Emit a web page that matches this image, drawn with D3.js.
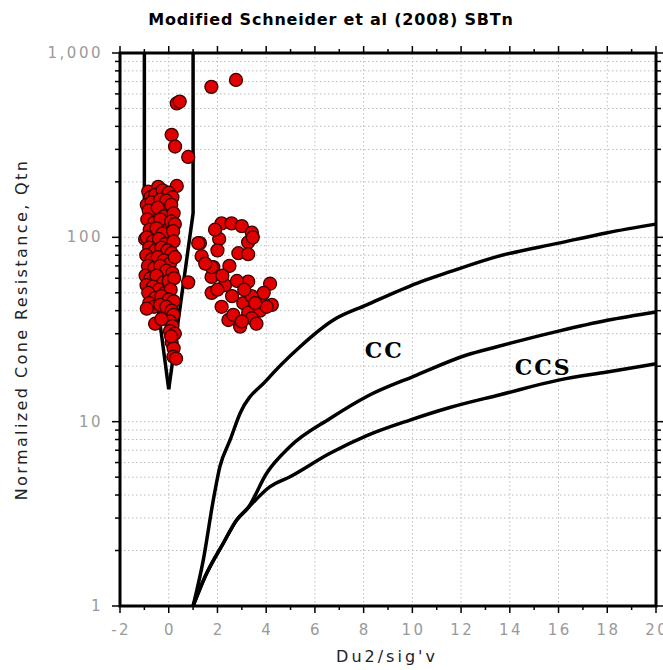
<!DOCTYPE html>
<html>
<head>
<meta charset="utf-8">
<script src="https://cdn.jsdelivr.net/npm/d3@7"></script>
<style>
  body { margin: 0; background: #fff; }
  text { font-family: "DejaVu Sans", Verdana, sans-serif; }
</style>
</head>
<body>
<script>
// tick values
var xTicks = [-2, 0, 2, 4, 6, 8, 10, 12, 14, 16, 18, 20];
var yTickLabels = [1, 10, 100, 1000];

// boundary lines (Du2/sig'v, Qtn)
var leftLine = [[-1, 1000], [-1, 150], [0, 15]];
var rightLine = [[1, 1000], [1, 135], [0, 15]];
var ccTop = [[1, 1], [1.42, 1.78], [1.83, 3.76], [2.1, 5.7], [2.52, 7.96], [2.93, 11.1], [4.02, 16.8],
  [5.39, 25.5], [6.76, 35.6], [8.13, 43], [10.18, 56.3], [11.55, 65.1], [13.47, 78.6], [16, 93], [18, 106], [20, 118]];
var ccMid = [[1, 1], [1.5, 1.45], [2.24, 2.19], [2.79, 2.93], [3.25, 3.4], [4.02, 5.25], [4.98, 7.33],
  [6.62, 10.4], [8.13, 13.7], [10.18, 17.9], [12.23, 23], [13.47, 25.5], [16, 31], [18, 35.5], [20, 39.4]];
var ccsLow = [[1, 1], [1.5, 1.45], [2.24, 2.19], [2.79, 2.93], [3.25, 3.4], [4.16, 4.44], [4.98, 5.03],
  [6.62, 6.74], [8.13, 8.4], [9.9, 10.2], [11.5, 11.9], [13.6, 14], [16, 16.8], [18, 18.6], [20, 20.6]];

// CPT data points
var ptX = [-0.84, -0.43, 0.33, -0.63, -0.08, -0.01, -0.97, 0.05,
  -0.75, -0.55, -0.25, 0.0, 0.15, -0.9, -0.7, -0.35, -0.1, 0.1,
  -0.82, -0.45, -0.2, 0.2, -0.88, -0.6, -0.35, 0.1, 0.25,
  -0.78, -0.5, -0.25, 0.18, -0.9, -0.65, -0.4, -0.15, 0.2,
  -0.8, -0.55, -0.3, -0.05, 0.12, -0.92, -0.7, -0.45, -0.2, 0.05, 0.25,
  -0.85, -0.6, -0.35, -0.1, 0.15, -0.95, -0.75, -0.5, -0.22, 0.0, 0.22,
  -0.91, -0.65, -0.4, -0.15, 0.08, -0.84, -0.55, -0.3, 0.0, 0.2,
  -0.8, -0.6, -0.35, -0.1, 0.12, -0.9,
  0.19, 0.05, -0.56, -0.3, 0.15, 0.05, 0.25, 0.12, 0.2, 0.19, 0.3, 0.1,
  0.33, 0.45, 0.12, 0.26, 0.8, 1.75, 2.76,
  2.17, 2.58, 3.0, 3.41, 2.07, 1.28, 3.26, 1.35, 2.86, 3.26, 1.83, 2.49, 0.8, 1.76, 2.31,
  3.26, 4.16, 1.76, 3.06, 3.75, 4.23, 2.17, 3.26, 3.75, 2.45, 2.93, 3.41, 2.65, 4.02, 1.21,
  1.76, 3.45, 2.0, 2.6, 3.0, 3.6, 2.2, 1.5, 2.0, 3.9, 3.4, 1.9, 2.8, 3.1, 3.55];
var ptQ = [177, 188, 190, 135, 141, 112, 98, 98,
  165, 170, 180, 175, 165, 150, 155, 160, 158, 150,
  140, 145, 130, 135, 125, 120, 125, 122, 118,
  110, 112, 105, 108, 100, 95, 98, 92, 95,
  88, 85, 88, 85, 82, 80, 76, 78, 75, 72, 78,
  70, 68, 70, 66, 64, 62, 60, 62, 57, 58, 60,
  55, 54, 52, 50, 52, 50, 47, 48, 46, 45,
  44, 42, 43, 42, 40, 41,
  38, 35, 34, 36, 33, 31, 30, 27, 25, 22.5, 22, 29,
  533, 545, 360, 311, 273, 655, 714,
  119, 119, 115, 106, 98, 93, 94, 79, 82, 81, 69, 70, 57, 61, 55,
  57.5, 56, 50, 44, 46, 43, 42, 39, 40, 35.6, 32.8, 36.4, 38, 42, 93,
  69, 100, 85, 48, 35, 34, 62, 72, 52, 50, 48, 110, 58, 52, 44];

var width = 663, height = 670;
var mLeft = 120, mRight = 656, mTop = 53, mBottom = 606;

var svg = d3.select("body").append("svg")
    .attr("width", width)
    .attr("height", height);

var x = d3.scaleLinear().domain([-2, 20]).range([mLeft, mRight]);
var y = d3.scaleLog().domain([1, 1000]).range([mBottom, mTop]);

// minor log values for grid and ticks
var yMinor = [];
[1, 10, 100].forEach(function (d) {
  for (var i = 1; i < 10; i++) yMinor.push(d * i);
});
yMinor.push(1000);
var xMinor = d3.range(-2, 20.5, 1);

// grid
var grid = svg.append("g").attr("stroke", "#bdbdbd").attr("stroke-dasharray", "1.5,2.5");
grid.selectAll(".gx").data(xTicks.slice(1, -1)).enter().append("line")
    .attr("x1", function (d) { return x(d); }).attr("x2", function (d) { return x(d); })
    .attr("y1", mTop).attr("y2", mBottom);
grid.selectAll(".gy").data(yMinor.slice(1, -1)).enter().append("line")
    .attr("y1", function (d) { return y(d); }).attr("y2", function (d) { return y(d); })
    .attr("x1", mLeft).attr("x2", mRight);

// ticks
var ticks = svg.append("g").attr("stroke", "#000").attr("stroke-width", 1.5);
xMinor.forEach(function (d) {
  var len = (d % 2 === 0) ? 7 : 4;
  ticks.append("line").attr("x1", x(d)).attr("x2", x(d)).attr("y1", mBottom).attr("y2", mBottom + len);
  ticks.append("line").attr("x1", x(d)).attr("x2", x(d)).attr("y1", mTop).attr("y2", mTop - len);
});
yMinor.forEach(function (d) {
  var len = yTickLabels.indexOf(d) >= 0 ? 8 : 5;
  ticks.append("line").attr("y1", y(d)).attr("y2", y(d)).attr("x1", mLeft).attr("x2", mLeft - len);
  ticks.append("line").attr("y1", y(d)).attr("y2", y(d)).attr("x1", mRight).attr("x2", mRight + len);
});

// frame
svg.append("rect")
    .attr("x", mLeft).attr("y", mTop)
    .attr("width", mRight - mLeft).attr("height", mBottom - mTop)
    .attr("fill", "none").attr("stroke", "#000").attr("stroke-width", 3);

// tick labels
svg.selectAll(".xl").data(xTicks).enter().append("text")
    .attr("x", function (d) { return x(d) + 1.2; })
    .attr("y", mBottom + 29)
    .attr("text-anchor", "middle")
    .attr("fill", "#9a9a9a")
    .style("font-size", "15px")
    .style("letter-spacing", "2.5px")
    .text(function (d) { return d; });
svg.selectAll(".yl").data(yTickLabels).enter().append("text")
    .attr("x", mLeft - 17)
    .attr("y", function (d) { return y(d) + 5; })
    .attr("text-anchor", "end")
    .attr("fill", "#9a9a9a")
    .style("font-size", "15px")
    .style("letter-spacing", "2.5px")
    .text(function (d) { return d3.format(",")(d); });

// boundary lines
var line = d3.line()
    .x(function (d) { return x(d[0]); })
    .y(function (d) { return y(d[1]); })
    .curve(d3.curveMonotoneX);
var straight = d3.line()
    .x(function (d) { return x(d[0]); })
    .y(function (d) { return y(d[1]); });

[leftLine, rightLine].forEach(function (l) {
  svg.append("path").attr("d", straight(l))
      .attr("fill", "none").attr("stroke", "#000").attr("stroke-width", 3.5);
});
[ccTop, ccMid, ccsLow].forEach(function (l) {
  svg.append("path").attr("d", line(l))
      .attr("fill", "none").attr("stroke", "#000").attr("stroke-width", 3.5);
});

// points
var pts = ptX.map(function (d, i) { return {x: d, q: ptQ[i]}; });
svg.selectAll(".pt").data(pts).enter().append("circle")
    .attr("cx", function (d) { return x(d.x); })
    .attr("cy", function (d) { return y(d.q); })
    .attr("r", 6.5)
    .attr("fill", "#e00000")
    .attr("stroke", "#3a0000")
    .attr("stroke-width", 1.3);

// zone labels
svg.append("text")
    .attr("x", x(8.85)).attr("y", y(24.5))
    .attr("dy", "0.35em")
    .attr("text-anchor", "middle")
    .style("font-family", "'DejaVu Serif', serif")
    .style("font-weight", "bold")
    .style("font-size", "22px")
    .style("letter-spacing", "2px")
    .text("CC");
svg.append("text")
    .attr("x", x(15.37)).attr("y", y(19.6))
    .attr("dy", "0.35em")
    .attr("text-anchor", "middle")
    .style("font-family", "'DejaVu Serif', serif")
    .style("font-weight", "bold")
    .style("font-size", "22px")
    .style("letter-spacing", "2px")
    .text("CCS");

// title and axis labels
svg.append("text")
    .attr("x", 331).attr("y", 25)
    .attr("text-anchor", "middle")
    .style("font-weight", "bold")
    .style("font-size", "16px")
    .style("letter-spacing", "0.8px")
    .text("Modified Schneider et al (2008) SBTn");
svg.append("text")
    .attr("x", 387).attr("y", 662)
    .attr("text-anchor", "middle")
    .attr("fill", "#222")
    .style("font-size", "16px")
    .style("letter-spacing", "3px")
    .text("Du2/sig'v");
svg.append("text")
    .attr("transform", "translate(27," + ((mTop + mBottom) / 2) + ") rotate(-90)")
    .attr("text-anchor", "middle")
    .attr("fill", "#222")
    .style("font-size", "16px")
    .style("letter-spacing", "2.4px")
    .text("Normalized Cone Resistance, Qtn");
</script>
</body>
</html>
